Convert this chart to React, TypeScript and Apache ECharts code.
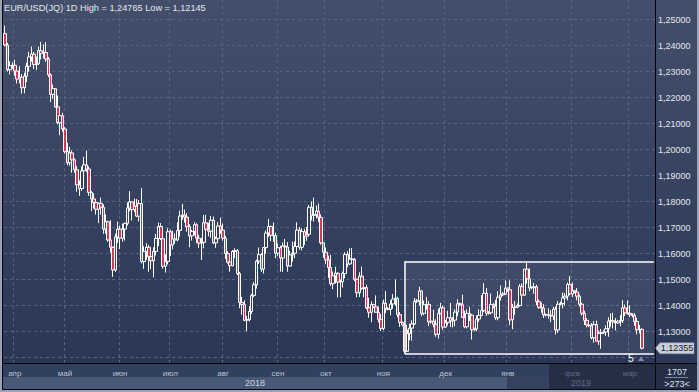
import React, { useEffect, useRef } from "react";
import * as echarts from "echarts";

// [day, open, close, low, high]
type Bar = [number, number, number, number, number];

const mar2018: Bar[] = [
  [27, 1.2446, 1.2402, 1.2397, 1.24765], [28, 1.2402, 1.2307, 1.23, 1.241], [29, 1.2307, 1.2322, 1.2289, 1.2339], [30, 1.2322, 1.2324, 1.231, 1.2335],
];
const apr2018: Bar[] = [
  [2, 1.2324, 1.2302, 1.2283, 1.2345], [3, 1.2302, 1.2271, 1.2254, 1.2318], [4, 1.2271, 1.2278, 1.2255, 1.232], [5, 1.2278, 1.2238, 1.2215, 1.229],
  [6, 1.2238, 1.2282, 1.2216, 1.2295], [9, 1.2282, 1.232, 1.226, 1.2334], [10, 1.232, 1.2356, 1.23, 1.2376], [11, 1.2356, 1.2367, 1.2338, 1.2396],
  [12, 1.2367, 1.2327, 1.231, 1.2375], [13, 1.2327, 1.233, 1.2306, 1.2358], [16, 1.233, 1.238, 1.2325, 1.2396], [17, 1.238, 1.237, 1.2346, 1.2414],
  [18, 1.237, 1.2373, 1.235, 1.2404], [19, 1.2373, 1.2348, 1.2337, 1.2413], [20, 1.2348, 1.2287, 1.2279, 1.2356], [23, 1.2287, 1.2212, 1.2183, 1.2293],
  [24, 1.2212, 1.2234, 1.2195, 1.225], [25, 1.2234, 1.2164, 1.2161, 1.2236], [26, 1.2164, 1.2103, 1.2097, 1.2208], [27, 1.2103, 1.213, 1.2055, 1.2132],
  [30, 1.213, 1.2079, 1.2069, 1.2141],
];
const may2018: Bar[] = [
  [1, 1.2079, 1.1992, 1.1984, 1.2086], [2, 1.1992, 1.1949, 1.1939, 1.2026], [3, 1.1949, 1.1987, 1.1938, 1.201], [4, 1.1987, 1.196, 1.1911, 1.1996],
  [7, 1.196, 1.1922, 1.191, 1.1966], [8, 1.1922, 1.1864, 1.1838, 1.1937], [9, 1.1864, 1.185, 1.1822, 1.1881], [10, 1.185, 1.1918, 1.1841, 1.1935],
  [11, 1.1918, 1.1941, 1.1904, 1.1972], [14, 1.1941, 1.1925, 1.1913, 1.1996], [15, 1.1925, 1.1835, 1.1822, 1.1935], [16, 1.1835, 1.181, 1.1763, 1.184],
  [17, 1.181, 1.1796, 1.1773, 1.1832], [18, 1.1796, 1.177, 1.175, 1.181], [21, 1.177, 1.1793, 1.1717, 1.1797], [22, 1.1793, 1.1778, 1.1749, 1.1815],
  [23, 1.1778, 1.1694, 1.1676, 1.1789], [24, 1.1694, 1.1722, 1.1677, 1.175], [25, 1.1722, 1.1652, 1.1645, 1.1727], [28, 1.1652, 1.1624, 1.1603, 1.1728],
  [29, 1.1624, 1.1537, 1.151, 1.1627], [30, 1.1537, 1.1664, 1.1529, 1.1676], [31, 1.1664, 1.1694, 1.164, 1.1723],
];
const jun2018: Bar[] = [
  [1, 1.1694, 1.1659, 1.1617, 1.1707], [4, 1.1659, 1.1694, 1.1645, 1.1715], [5, 1.1694, 1.1716, 1.165, 1.1719], [6, 1.1716, 1.1775, 1.1708, 1.1797],
  [7, 1.1775, 1.1799, 1.1762, 1.184], [8, 1.1799, 1.1769, 1.1727, 1.18], [11, 1.1769, 1.1782, 1.1759, 1.1811], [12, 1.1782, 1.1744, 1.1741, 1.181],
  [13, 1.1744, 1.1792, 1.1723, 1.1806], [14, 1.1792, 1.1569, 1.1562, 1.1852], [15, 1.1569, 1.1608, 1.1541, 1.1628], [18, 1.1608, 1.1624, 1.1576, 1.164],
  [19, 1.1624, 1.1588, 1.153, 1.1633], [20, 1.1588, 1.1572, 1.154, 1.1608], [21, 1.1572, 1.1608, 1.1508, 1.1624], [22, 1.1608, 1.1658, 1.1593, 1.1676],
  [25, 1.1658, 1.1704, 1.1629, 1.1719], [26, 1.1704, 1.1657, 1.1652, 1.1717], [27, 1.1657, 1.1551, 1.1542, 1.1667], [28, 1.1551, 1.1569, 1.1527, 1.1597],
  [29, 1.1569, 1.1684, 1.1558, 1.1697],
];
const jul2018: Bar[] = [
  [2, 1.1684, 1.1633, 1.1591, 1.1692], [3, 1.1633, 1.1656, 1.1616, 1.1688], [4, 1.1656, 1.1652, 1.1637, 1.1677], [5, 1.1652, 1.1689, 1.1647, 1.172],
  [6, 1.1689, 1.1744, 1.1665, 1.1765], [9, 1.1744, 1.1748, 1.173, 1.1791], [10, 1.1748, 1.174, 1.1719, 1.1769], [11, 1.174, 1.1704, 1.1684, 1.1756],
  [12, 1.1704, 1.1668, 1.1624, 1.1713], [13, 1.1668, 1.1685, 1.165, 1.1691], [16, 1.1685, 1.1711, 1.167, 1.1721], [17, 1.1711, 1.1659, 1.164, 1.1717],
  [18, 1.1659, 1.164, 1.1621, 1.1672], [19, 1.164, 1.1643, 1.1575, 1.1659], [20, 1.1643, 1.1718, 1.162, 1.1749], [23, 1.1718, 1.1693, 1.1684, 1.1749],
  [24, 1.1693, 1.1686, 1.1666, 1.1718], [25, 1.1686, 1.1728, 1.1661, 1.1745], [26, 1.1728, 1.1641, 1.1637, 1.1742], [27, 1.1641, 1.1657, 1.1622, 1.1665],
  [30, 1.1657, 1.1706, 1.1647, 1.1721], [31, 1.1706, 1.169, 1.1677, 1.1738],
];
const aug2018: Bar[] = [
  [1, 1.169, 1.1659, 1.165, 1.1715], [2, 1.1659, 1.16, 1.1579, 1.1668], [3, 1.16, 1.1567, 1.1561, 1.1609], [6, 1.1567, 1.1553, 1.153, 1.1574],
  [7, 1.1553, 1.1608, 1.1551, 1.1613], [8, 1.1608, 1.1611, 1.1582, 1.162], [9, 1.1611, 1.1523, 1.1517, 1.1617], [10, 1.1523, 1.1412, 1.139, 1.1529],
  [13, 1.1412, 1.1404, 1.1365, 1.1433], [14, 1.1404, 1.1343, 1.134, 1.142], [15, 1.1343, 1.1346, 1.1301, 1.136], [16, 1.1346, 1.1377, 1.1339, 1.1398],
  [17, 1.1377, 1.1439, 1.1368, 1.1445], [20, 1.1439, 1.148, 1.1433, 1.149], [21, 1.148, 1.1571, 1.1465, 1.1576], [22, 1.1571, 1.1596, 1.156, 1.1623],
  [23, 1.1596, 1.154, 1.1529, 1.1602], [24, 1.154, 1.1623, 1.1523, 1.1625], [27, 1.1623, 1.1679, 1.1599, 1.1688], [28, 1.1679, 1.1704, 1.1664, 1.1733],
  [29, 1.1704, 1.167, 1.1648, 1.1708], [30, 1.167, 1.1669, 1.1645, 1.1719], [31, 1.1669, 1.1601, 1.1582, 1.168],
];
const sep2018: Bar[] = [
  [3, 1.1601, 1.1622, 1.1589, 1.1639], [4, 1.1622, 1.1583, 1.153, 1.163], [5, 1.1583, 1.1629, 1.153, 1.1642], [6, 1.1629, 1.1625, 1.159, 1.1656],
  [7, 1.1625, 1.1552, 1.153, 1.1644], [10, 1.1552, 1.1595, 1.1551, 1.1611], [11, 1.1595, 1.1601, 1.1569, 1.1646], [12, 1.1601, 1.1627, 1.1582, 1.1646],
  [13, 1.1627, 1.169, 1.1604, 1.172], [14, 1.169, 1.1624, 1.1615, 1.1701], [17, 1.1624, 1.1684, 1.1612, 1.1697], [18, 1.1684, 1.1667, 1.1633, 1.1695],
  [19, 1.1667, 1.1674, 1.1649, 1.1702], [20, 1.1674, 1.1778, 1.1666, 1.1787], [21, 1.1778, 1.1747, 1.1727, 1.18], [24, 1.1747, 1.1749, 1.1723, 1.1815],
  [25, 1.1749, 1.1763, 1.1735, 1.1785], [26, 1.1763, 1.1739, 1.1721, 1.1792], [27, 1.1739, 1.1641, 1.1634, 1.1751], [28, 1.1641, 1.1605, 1.1583, 1.1642],
];
const oct2018: Bar[] = [
  [1, 1.1605, 1.1576, 1.156, 1.1623], [2, 1.1576, 1.1546, 1.1506, 1.1592], [3, 1.1546, 1.1484, 1.1476, 1.1595], [4, 1.1484, 1.1514, 1.1463, 1.1531],
  [5, 1.1514, 1.1524, 1.1485, 1.1549], [8, 1.1524, 1.149, 1.1431, 1.1528], [9, 1.149, 1.1492, 1.1432, 1.15], [10, 1.1492, 1.1523, 1.1469, 1.1531],
  [11, 1.1523, 1.1596, 1.1505, 1.1605], [12, 1.1596, 1.156, 1.1547, 1.1609], [15, 1.156, 1.1579, 1.1556, 1.162], [16, 1.1579, 1.1577, 1.1565, 1.1621],
  [17, 1.1577, 1.1501, 1.1494, 1.1583], [18, 1.1501, 1.1449, 1.1432, 1.1503], [19, 1.1449, 1.1513, 1.1433, 1.1528], [22, 1.1513, 1.1465, 1.1461, 1.155],
  [23, 1.1465, 1.1469, 1.1432, 1.1496], [24, 1.1469, 1.1391, 1.1386, 1.148], [25, 1.1391, 1.1374, 1.1353, 1.143], [26, 1.1374, 1.1404, 1.1336, 1.1416],
  [28, 1.1404, 1.1395, 1.139, 1.1407], [29, 1.1395, 1.1374, 1.1373, 1.1439], [30, 1.1374, 1.1347, 1.1335, 1.1396], [31, 1.1347, 1.1312, 1.1302, 1.1367],
];
const nov2018: Bar[] = [
  [1, 1.1312, 1.1409, 1.1305, 1.1423], [2, 1.1409, 1.1389, 1.1371, 1.1456], [4, 1.1389, 1.1385, 1.1381, 1.1394], [5, 1.1385, 1.1406, 1.1362, 1.142],
  [6, 1.1406, 1.1425, 1.1387, 1.1444], [7, 1.1425, 1.1428, 1.14, 1.15], [8, 1.1428, 1.1365, 1.1355, 1.1434], [9, 1.1365, 1.1335, 1.1318, 1.1375],
  [11, 1.1335, 1.1325, 1.132, 1.1338], [12, 1.1325, 1.1224, 1.12145, 1.1333], [13, 1.1224, 1.1292, 1.1221, 1.1307], [14, 1.1292, 1.1313, 1.1267, 1.133],
  [15, 1.1313, 1.1329, 1.1265, 1.1343], [16, 1.1329, 1.1416, 1.1325, 1.1429], [18, 1.1416, 1.1418, 1.141, 1.1425], [19, 1.1418, 1.1456, 1.1399, 1.1472],
  [20, 1.1456, 1.137, 1.1359, 1.146], [21, 1.137, 1.1403, 1.1363, 1.1419], [22, 1.1403, 1.1404, 1.1385, 1.1433], [23, 1.1404, 1.1337, 1.1321, 1.1417],
  [25, 1.1337, 1.134, 1.133, 1.1349], [26, 1.134, 1.1328, 1.1316, 1.1384], [27, 1.1328, 1.1289, 1.128, 1.1347], [28, 1.1289, 1.137, 1.1273, 1.1388],
  [29, 1.137, 1.1391, 1.1366, 1.141], [30, 1.1391, 1.1317, 1.1306, 1.14],
];
const dec2018: Bar[] = [
  [2, 1.1317, 1.1335, 1.1315, 1.1345], [3, 1.1335, 1.1353, 1.1323, 1.138], [4, 1.1353, 1.1341, 1.1317, 1.141], [5, 1.1341, 1.1344, 1.1316, 1.1355],
  [6, 1.1344, 1.1375, 1.132, 1.1386], [7, 1.1375, 1.1407, 1.1359, 1.1424], [9, 1.1407, 1.1403, 1.1398, 1.1412], [10, 1.1403, 1.1354, 1.1353, 1.1442],
  [11, 1.1354, 1.1318, 1.1313, 1.138], [12, 1.1318, 1.137, 1.1312, 1.1385], [13, 1.137, 1.1363, 1.1341, 1.1395], [14, 1.1363, 1.1307, 1.1269, 1.1367],
  [16, 1.1307, 1.131, 1.1302, 1.1315], [17, 1.131, 1.1348, 1.1301, 1.1362], [18, 1.1348, 1.1362, 1.1337, 1.1385], [19, 1.1362, 1.1381, 1.1359, 1.144],
  [20, 1.1381, 1.1447, 1.1375, 1.1486], [21, 1.1447, 1.137, 1.136, 1.1467], [23, 1.137, 1.1372, 1.1365, 1.1378], [24, 1.1372, 1.1404, 1.1366, 1.1446],
  [25, 1.1404, 1.1398, 1.139, 1.141], [26, 1.1398, 1.1353, 1.1345, 1.1422], [27, 1.1353, 1.1432, 1.1343, 1.1455], [28, 1.1432, 1.1441, 1.1419, 1.1477],
  [30, 1.1441, 1.1445, 1.1436, 1.1452], [31, 1.1445, 1.1467, 1.1442, 1.1497],
];
const jan2019: Bar[] = [
  [1, 1.1467, 1.1461, 1.1452, 1.147], [2, 1.1461, 1.1345, 1.1325, 1.1497], [3, 1.1345, 1.1393, 1.1309, 1.1406], [4, 1.1393, 1.1394, 1.1363, 1.1418],
  [6, 1.1394, 1.14, 1.139, 1.1408], [7, 1.14, 1.1473, 1.1396, 1.1483], [8, 1.1473, 1.144, 1.1421, 1.1485], [9, 1.144, 1.154, 1.1437, 1.1541],
  [10, 1.154, 1.1503, 1.1484, 1.157], [11, 1.1503, 1.1468, 1.1455, 1.1543], [13, 1.1468, 1.147, 1.1463, 1.1475], [14, 1.147, 1.1472, 1.1446, 1.1487],
  [15, 1.1472, 1.1415, 1.1401, 1.148], [16, 1.1415, 1.1393, 1.1387, 1.1423], [17, 1.1393, 1.139, 1.1372, 1.1411], [18, 1.139, 1.1364, 1.1352, 1.1405],
  [20, 1.1364, 1.1365, 1.1358, 1.137], [21, 1.1365, 1.1362, 1.135, 1.1389], [22, 1.1362, 1.136, 1.1336, 1.1382], [23, 1.136, 1.1386, 1.1345, 1.1395],
  [24, 1.1386, 1.1306, 1.1289, 1.1396], [25, 1.1306, 1.1405, 1.1295, 1.1417], [27, 1.1405, 1.1408, 1.14, 1.1415], [28, 1.1408, 1.1429, 1.1389, 1.145],
  [29, 1.1429, 1.1436, 1.1399, 1.1448], [30, 1.1436, 1.1481, 1.142, 1.1489], [31, 1.1481, 1.1445, 1.144, 1.1514],
];
const feb2019: Bar[] = [
  [1, 1.1445, 1.1456, 1.1433, 1.1488], [3, 1.1456, 1.1452, 1.1447, 1.146], [4, 1.1452, 1.1436, 1.142, 1.1467], [5, 1.1436, 1.1405, 1.1396, 1.1442],
  [6, 1.1405, 1.137, 1.1362, 1.1411], [7, 1.137, 1.1343, 1.1325, 1.138], [8, 1.1343, 1.1325, 1.1316, 1.1352], [10, 1.1325, 1.1322, 1.1317, 1.133],
  [11, 1.1322, 1.1276, 1.127, 1.1333], [12, 1.1276, 1.1327, 1.1257, 1.134], [13, 1.1327, 1.1263, 1.126, 1.1342], [14, 1.1263, 1.1293, 1.1249, 1.1304],
  [15, 1.1293, 1.1295, 1.1234, 1.131], [17, 1.1295, 1.1298, 1.129, 1.1305], [18, 1.1298, 1.1311, 1.1283, 1.1323], [19, 1.1311, 1.134, 1.128, 1.1355],
  [20, 1.134, 1.1342, 1.1318, 1.137], [21, 1.1342, 1.1337, 1.1312, 1.1372], [22, 1.1337, 1.1333, 1.1304, 1.1352], [24, 1.1333, 1.134, 1.133, 1.1345],
  [25, 1.134, 1.1342, 1.132, 1.1363], [26, 1.1342, 1.1391, 1.1333, 1.142], [27, 1.1391, 1.1372, 1.136, 1.1404], [28, 1.1372, 1.137, 1.1365, 1.1419],
];
const mar2019: Bar[] = [
  [1, 1.137, 1.1364, 1.1355, 1.14], [3, 1.1364, 1.1362, 1.1355, 1.137], [4, 1.1362, 1.1339, 1.1322, 1.1371], [5, 1.1339, 1.1307, 1.1289, 1.1353],
  [6, 1.1307, 1.1308, 1.1293, 1.1325], [7, 1.1308, 1.12355, 1.1231, 1.1314],
];

const monthBlocks = [
  { year: 2018, month: 3, label: "мар", bars: mar2018 },
  { year: 2018, month: 4, label: "апр", bars: apr2018 },
  { year: 2018, month: 5, label: "май", bars: may2018 },
  { year: 2018, month: 6, label: "июн", bars: jun2018 },
  { year: 2018, month: 7, label: "июл", bars: jul2018 },
  { year: 2018, month: 8, label: "авг", bars: aug2018 },
  { year: 2018, month: 9, label: "сен", bars: sep2018 },
  { year: 2018, month: 10, label: "окт", bars: oct2018 },
  { year: 2018, month: 11, label: "ноя", bars: nov2018 },
  { year: 2018, month: 12, label: "дек", bars: dec2018 },
  { year: 2019, month: 1, label: "янв", bars: jan2019 },
  { year: 2019, month: 2, label: "фев", bars: feb2019 },
  { year: 2019, month: 3, label: "мар", bars: mar2019 },
];

const padDates = ["2019-03-08", "2019-03-10", "2019-03-11", "2019-03-12", "2019-03-13"];
const dimFromDate = "2019-02-01";
const boxFromDate = "2018-11-12";
const boxLow = 1.12145;
const boxHigh = 1.157;
const lastPrice = 1.12355;
const titleText = "EUR/USD(JQ) 1D High = 1,24765 Low = 1,12145";
const yearLabels = ["2018", "2019"];
const counterTop = "1707";
const counterBottom = ">273<";
const boxTag = "5";

const pad2 = (n: number) => (n < 10 ? "0" + n : "" + n);
const categories: string[] = [];
const candles: number[][] = [];
const monthLabelAt: Record<number, string> = {};
monthBlocks.forEach((blk, k) => {
  blk.bars.forEach((b, i) => {
    if (i === 0 && k > 0) monthLabelAt[categories.length] = blk.label;
    categories.push(`${blk.year}-${pad2(blk.month)}-${pad2(b[0])}`);
    candles.push([b[1], b[2], b[3], b[4]]);
  });
});
const axisCategories = categories.concat(padDates);
const lastCat = axisCategories[axisCategories.length - 1];
const fmt = (v: number) => v.toFixed(5).replace(".", ",");

const FONT = '"Liberation Sans", Arial, sans-serif';

export default function App() {
  const ref = useRef<HTMLDivElement>(null);
  useEffect(() => {
    document.body.style.margin = "0";
    const chart = echarts.init(ref.current!, null, { renderer: "svg" });
    const grad = () =>
      new echarts.graphic.LinearGradient(0, 0, 0, 1, [
        { offset: 0, color: "#434f6a" },
        { offset: 1, color: "#2a3757" },
      ]);
    const gridLine = { show: true, lineStyle: { color: "#56627f", width: 1, type: [3, 3] } };
    chart.setOption({
      animation: false,
      backgroundColor: "#05070c",
      textStyle: { fontFamily: FONT },
      grid: { left: 4, top: 0, width: 651, height: 363, containLabel: false, outerBoundsMode: "none" },
      xAxis: {
        type: "category",
        data: axisCategories,
        boundaryGap: true,
        axisLine: { show: true, lineStyle: { color: "#000000", width: 1 } },
        axisTick: { show: false },
        axisLabel: {
          interval: (i: number) => monthLabelAt[i] !== undefined,
          formatter: (_v: string, i: number) => monthLabelAt[i] ?? "",
          color: (v: string) => (v >= dimFromDate ? "#5f6a84" : "#bcc4d3"),
          fontSize: 8,
          fontFamily: FONT,
          margin: 6,
        },
        splitLine: { ...gridLine, interval: (i: number) => monthLabelAt[i] !== undefined },
      },
      yAxis: {
        type: "value",
        position: "right",
        min: 1.1179,
        max: 1.2575,
        minInterval: 0.01,
        maxInterval: 0.01,
        splitNumber: 14,
        axisLine: { show: true, lineStyle: { color: "#000000", width: 1 } },
        axisTick: { show: false },
        axisLabel: {
          showMinLabel: false,
          showMaxLabel: false,
          formatter: (v: number) => (v < 1.125 ? "" : fmt(v)),
          color: "#e3e7ee",
          fontSize: 9,
          fontFamily: FONT,
          margin: 3,
        },
        splitLine: { ...gridLine, showMinLine: false, showMaxLine: false },
      },
      series: [
        {
          type: "candlestick",
          data: candles,
          barWidth: 3,
          itemStyle: {
            color: "#34415e",
            color0: "#d23a56",
            borderColor: "#ffffff",
            borderColor0: "#ffffff",
            borderWidth: 1,
          },
          markArea: {
            silent: true,
            itemStyle: { color: "rgba(255,255,255,0.07)", borderWidth: 0 },
            data: [
              [
                { xAxis: boxFromDate, yAxis: boxLow },
                { xAxis: lastCat, yAxis: boxHigh },
              ],
            ],
          },
          markLine: {
            silent: true,
            symbol: ["none", "none"],
            label: { show: false },
            lineStyle: { color: "#ffffff", width: 1.5, type: "solid" },
            data: [
              [{ xAxis: boxFromDate, yAxis: boxHigh }, { xAxis: lastCat, yAxis: boxHigh }],
              [{ xAxis: boxFromDate, yAxis: boxLow }, { xAxis: lastCat, yAxis: boxLow }],
              [{ xAxis: boxFromDate, yAxis: boxLow }, { xAxis: boxFromDate, yAxis: boxHigh }],
            ],
          },
        },
      ],
    });
    const py = chart.convertToPixel({ yAxisIndex: 0 }, lastPrice) as number;
    const txt = (x: number, y: number, text: string, fill: string, size: number, align = "center") => ({
      type: "text",
      x,
      y,
      z: 100,
      style: { text, fill, font: `${size}px ${FONT}`, textAlign: align, textVerticalAlign: "middle", align, verticalAlign: "middle" },
    });
    const rect = (x: number, y: number, w: number, h: number, fill: any, z = -10) => ({
      type: "rect",
      z,
      shape: { x, y, width: w, height: h },
      style: { fill },
      silent: true,
    });
    chart.setOption({
      graphic: {
        elements: [
          rect(0, 0, 699, 392, "#9aa4b8", -30),
          rect(2, 0, 695, 390, "#05070c", -29),
          rect(3, 0, 652, 363, grad(), -28),
          rect(656, 0, 41, 363, grad(), -28),
          rect(3, 364, 652, 13, "#31405e", -28),
          rect(3, 377, 504, 12, "#4a5977", -28),
          rect(507, 377, 42, 12, "#36435f", -28),
          rect(549, 364, 106, 25, "#252e45", -27),
          rect(656, 364, 41, 25, "#252e45", -28),
          txt(4, 8, titleText, "#e4e8ef", 9.2, "left"),
          txt(255, 383, yearLabels[0], "#cfd5e0", 9),
          txt(581, 383, yearLabels[1], "#5f6a84", 9),
          txt(677, 372, counterTop, "#dfe3ea", 9),
          {
            type: "line",
            z: 100,
            shape: { x1: 665, y1: 377.5, x2: 688, y2: 377.5 },
            style: { stroke: "#7d879c", lineWidth: 1 },
          },
          txt(677, 384, counterBottom, "#dfe3ea", 9),
          txt(631, 358, boxTag, "#ffffff", 10),
          {
            type: "polygon",
            z: 100,
            shape: { points: [[638, 361], [641, 356.5], [644, 361]] },
            style: { fill: "#7f8aa0" },
          },
          {
            type: "polygon",
            z: 100,
            shape: { points: [[655.5, py], [660, py - 5.5], [694, py - 5.5], [694, py + 5.5], [660, py + 5.5]] },
            style: { fill: "#c9ced8", stroke: "#8f98aa", lineWidth: 0.5 },
          },
          txt(677, py, fmt(lastPrice), "#1a2030", 9),
        ],
      },
    });
    return () => chart.dispose();
  }, []);
  return <div ref={ref} style={{ width: 699, height: 392 }} />;
}
